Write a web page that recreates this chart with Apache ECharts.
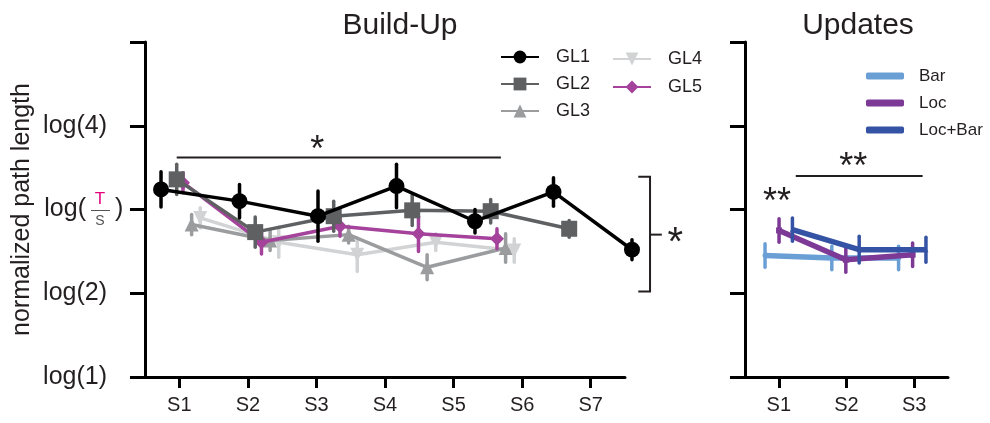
<!DOCTYPE html>
<html>
<head>
<meta charset="utf-8">
<script src="https://cdn.jsdelivr.net/npm/echarts@6/dist/echarts.min.js"></script>
<style>
  html, body { margin: 0; padding: 0; background: #fff; }
  #chart { width: 990px; height: 423px; }
</style>
</head>
<body>
<div id="chart"></div>
<script>
// 数据
const buildSessions = ['S1', 'S2', 'S3', 'S4', 'S5', 'S6', 'S7'];
const updateSessions = ['S1', 'S2', 'S3'];
const yTickLabels = ['log(1)', 'log(2)', '', 'log(4)', ''];

const gl1 = [2.24, 2.10, 1.92, 2.28, 1.86, 2.21, 1.52];
const gl1Err = [0.21, 0.20, 0.30, 0.26, 0.14, 0.17, 0.12];
const gl2 = [2.36, 1.73, 1.92, 1.99, 1.98, 1.77];
const gl2Err = [0.18, 0.18, 0.18, 0.18, 0.14, 0.10];
const gl3 = [1.82, 1.63, 1.70, 1.31, 1.54];
const gl3Err = [0.12, 0.12, 0.10, 0.15, 0.17];
const gl4 = [1.90, 1.61, 1.46, 1.61, 1.51];
const gl4Err = [0.12, 0.18, 0.20, 0.10, 0.14];
const gl5 = [2.32, 1.61, 1.80, 1.71, 1.65];
const gl5Err = [0.12, 0.14, 0.12, 0.21, 0.12];

const barVals = [1.45, 1.42, 1.42];
const barErr = [0.14, 0.14, 0.14];
const locVals = [1.75, 1.40, 1.46];
const locErr = [0.14, 0.15, 0.14];
const locBarVals = [1.76, 1.52, 1.52];
const locBarErr = [0.14, 0.16, 0.15];

const FONT = 'Liberation Sans, Arial, sans-serif';
const TEXT = '#231f20';

const chart = echarts.init(document.getElementById('chart'));

// 折线 + 误差线
function makeSeries(name, values, errs, offset, color, symbol, symbolSize, xIdx, yIdx, lineWidth, z, rotate) {
    const pts = values.map((v, i) => [i + 1 + offset, v]);
    const bars = values.map((v, i) => [i + 1 + offset, v - errs[i], v + errs[i]]);
    return [
        {
            name: name,
            type: 'line',
            xAxisIndex: xIdx,
            yAxisIndex: yIdx,
            data: pts,
            symbol: symbol,
            symbolSize: symbolSize,
            symbolRotate: rotate || 0,
            showAllSymbol: true,
            clip: false,
            lineStyle: { color: color, width: lineWidth },
            itemStyle: { color: color },
            z: z,
            animation: false
        },
        {
            name: name + ' err',
            type: 'custom',
            xAxisIndex: xIdx,
            yAxisIndex: yIdx,
            data: bars,
            encode: { x: 0, y: [1, 2] },
            clip: false,
            z: z,
            renderItem: function (params, api) {
                const p1 = api.coord([api.value(0), api.value(1)]);
                const p2 = api.coord([api.value(0), api.value(2)]);
                return {
                    type: 'line',
                    shape: { x1: p1[0], y1: p1[1], x2: p2[0], y2: p2[1] },
                    style: { stroke: color, lineWidth: 3.5, lineCap: 'round' }
                };
            },
            animation: false
        }
    ];
}

const series = [].concat(
    makeSeries('GL4', gl4, gl4Err, 0.50, '#d2d3d4', 'triangle', 14, 1, 0, 3.5, 2, 180),
    makeSeries('GL3', gl3, gl3Err, 0.39, '#9b9c9e', 'triangle', 14, 1, 0, 3.5, 3),
    makeSeries('GL5', gl5, gl5Err, 0.28, '#a4429c', 'diamond', 14, 1, 0, 3.5, 4),
    makeSeries('GL2', gl2, gl2Err, 0.20, '#5e6062', 'rect', 16, 1, 0, 3.5, 5),
    makeSeries('GL1', gl1, gl1Err, 0, '#000000', 'circle', 16, 1, 0, 3.5, 6),
    makeSeries('Bar', barVals, barErr, -0.21, '#6a9fd6', 'circle', 5, 3, 1, 5.5, 3),
    makeSeries('Loc', locVals, locErr, 0, '#7c3996', 'rect', 6, 3, 1, 5.5, 4),
    makeSeries('Loc+Bar', locBarVals, locBarErr, 0.2, '#3553a4', 'triangle', 5, 3, 1, 5.5, 5)
);

const axisLine = { show: true, lineStyle: { color: '#000', width: 3 } };
const legendText = { fontFamily: FONT, fontSize: 18, color: TEXT, padding: [0, 0, 0, 12] };

const option = {
    backgroundColor: '#fff',
    animation: false,
    title: [
        { text: 'Build-Up', left: 395, top: 6, textAlign: 'center',
          textStyle: { fontFamily: FONT, fontSize: 30, fontWeight: 'normal', color: TEXT } },
        { text: 'Updates', left: 853, top: 6, textAlign: 'center',
          textStyle: { fontFamily: FONT, fontSize: 30, fontWeight: 'normal', color: TEXT } }
    ],
    legend: [
        { data: ['GL1', 'GL2', 'GL3'], orient: 'vertical', left: 495, top: 43, itemGap: 9,
          itemWidth: 38, itemHeight: 16, textStyle: legendText },
        { data: ['GL4', 'GL5'], orient: 'vertical', left: 607, top: 45, itemGap: 10,
          itemWidth: 38, itemHeight: 16, textStyle: legendText },
        { data: ['Bar', 'Loc', 'Loc+Bar'], orient: 'vertical', left: 861, top: 61, itemGap: 7,
          icon: 'roundRect', itemWidth: 38, itemHeight: 7,
          textStyle: { fontFamily: FONT, fontSize: 17, color: TEXT, padding: [0, 0, 0, 10], lineHeight: 20 } }
    ],
    grid: [
        { left: 145, right: 365, top: 42, bottom: 46 },
        { left: 745, right: 42, top: 42, bottom: 46 }
    ],
    xAxis: [
        { type: 'category', gridIndex: 0, data: buildSessions, boundaryGap: true,
          axisLine: axisLine,
          axisTick: { show: true, alignWithLabel: true, length: 11, lineStyle: { color: '#000', width: 3 } },
          axisLabel: { fontFamily: FONT, fontSize: 20, color: TEXT, margin: 18 },
          splitLine: { show: false } },
        { type: 'value', gridIndex: 0, min: 0.796, max: 6.911, show: false },
        { type: 'category', gridIndex: 1, data: updateSessions, boundaryGap: true,
          axisLine: axisLine,
          axisTick: { show: true, alignWithLabel: true, length: 11, lineStyle: { color: '#000', width: 3 } },
          axisLabel: { fontFamily: FONT, fontSize: 20, color: TEXT, margin: 18 },
          splitLine: { show: false } },
        { type: 'value', gridIndex: 1, min: 0.49, max: 3.53, show: false }
    ],
    yAxis: [
        { type: 'value', gridIndex: 0, min: 0, max: 4, interval: 1,
          name: 'normalized path length', nameLocation: 'middle', nameGap: 110,
          nameTextStyle: { fontFamily: FONT, fontSize: 25, color: TEXT },
          axisLine: axisLine,
          axisTick: { show: true, length: 15, lineStyle: { color: '#000', width: 3 } },
          axisLabel: { fontFamily: FONT, fontSize: 25, color: TEXT, margin: 38,
                       formatter: v => yTickLabels[Math.round(v)] },
          splitLine: { show: false } },
        { type: 'value', gridIndex: 1, min: 0, max: 4, interval: 1,
          axisLine: axisLine,
          axisTick: { show: true, length: 15, lineStyle: { color: '#000', width: 3 } },
          axisLabel: { show: false },
          splitLine: { show: false } }
    ],
    series: series
};

chart.setOption(option);

// 注释（数据坐标）
const leftSig = { x1: 1.2, x2: 5.33, y: 2.62, starX: 2.99, starY: 2.80 };
const bracket = { x1: 7.08, x2: 7.23, x3: 7.38, yTop: 2.39, yBot: 1.02, yMid: 1.70, starX: 7.55 };
const rightSig = { x1: 1.25, x2: 3.15, y: 2.40, starX: 2.11, starY: 2.60, s1X: 0.97, s1Y: 2.18 };

const L = (x, y) => chart.convertToPixel({ xAxisIndex: 1, yAxisIndex: 0 }, [x, y]);
const R = (x, y) => chart.convertToPixel({ xAxisIndex: 3, yAxisIndex: 1 }, [x, y]);

const lineStyle = { stroke: '#231f20', lineWidth: 2 };
const starStyle = (t, p, size) => ({ type: 'text', x: p[0], y: p[1] + 9,
    style: { text: t, fontFamily: FONT, fontSize: size || 36, fill: TEXT, align: 'center', verticalAlign: 'middle' } });

const a1 = L(leftSig.x1, leftSig.y), a2 = L(leftSig.x2, leftSig.y);
const b1 = L(bracket.x1, bracket.yTop), b2 = L(bracket.x2, bracket.yTop);
const b3 = L(bracket.x2, bracket.yBot), b4 = L(bracket.x1, bracket.yBot);
const bm = L(bracket.x2, bracket.yMid), bm2 = L(bracket.x3, bracket.yMid);
const r1 = R(rightSig.x1, rightSig.y), r2 = R(rightSig.x2, rightSig.y);
const mid = chart.convertToPixel({ yAxisIndex: 0 }, 2);

chart.setOption({
    graphic: [
        { type: 'line', shape: { x1: a1[0], y1: a1[1], x2: a2[0], y2: a2[1] }, style: lineStyle },
        starStyle('*', L(leftSig.starX, leftSig.starY)),
        { type: 'polyline', shape: { points: [b1, b2, b3, b4] }, style: Object.assign({ fill: null }, lineStyle) },
        { type: 'line', shape: { x1: bm[0], y1: bm[1], x2: bm2[0], y2: bm2[1] }, style: lineStyle },
        starStyle('*', L(bracket.starX, bracket.yMid), 40),
        { type: 'line', shape: { x1: r1[0], y1: r1[1], x2: r2[0], y2: r2[1] }, style: lineStyle },
        starStyle('**', R(rightSig.starX, rightSig.starY)),
        starStyle('**', R(rightSig.s1X, rightSig.s1Y)),
        // log(T/S) 标签
        { type: 'text', x: 86, y: mid, style: { text: 'log(', fontFamily: FONT, fontSize: 25, fill: TEXT,
            align: 'right', verticalAlign: 'middle' } },
        { type: 'text', x: 100, y: mid - 10, style: { text: 'T', fontFamily: FONT, fontSize: 17, fill: '#e6007e',
            align: 'center', verticalAlign: 'middle' } },
        { type: 'line', shape: { x1: 91, y1: mid + 1, x2: 110, y2: mid + 1 }, style: { stroke: '#555', lineWidth: 1 } },
        { type: 'text', x: 100, y: mid + 12, style: { text: 'S', fontFamily: FONT, fontSize: 14, fill: '#555',
            align: 'center', verticalAlign: 'middle' } },
        { type: 'text', x: 115, y: mid, style: { text: ')', fontFamily: FONT, fontSize: 25, fill: TEXT,
            align: 'left', verticalAlign: 'middle' } }
    ]
});
</script>
</body>
</html>
